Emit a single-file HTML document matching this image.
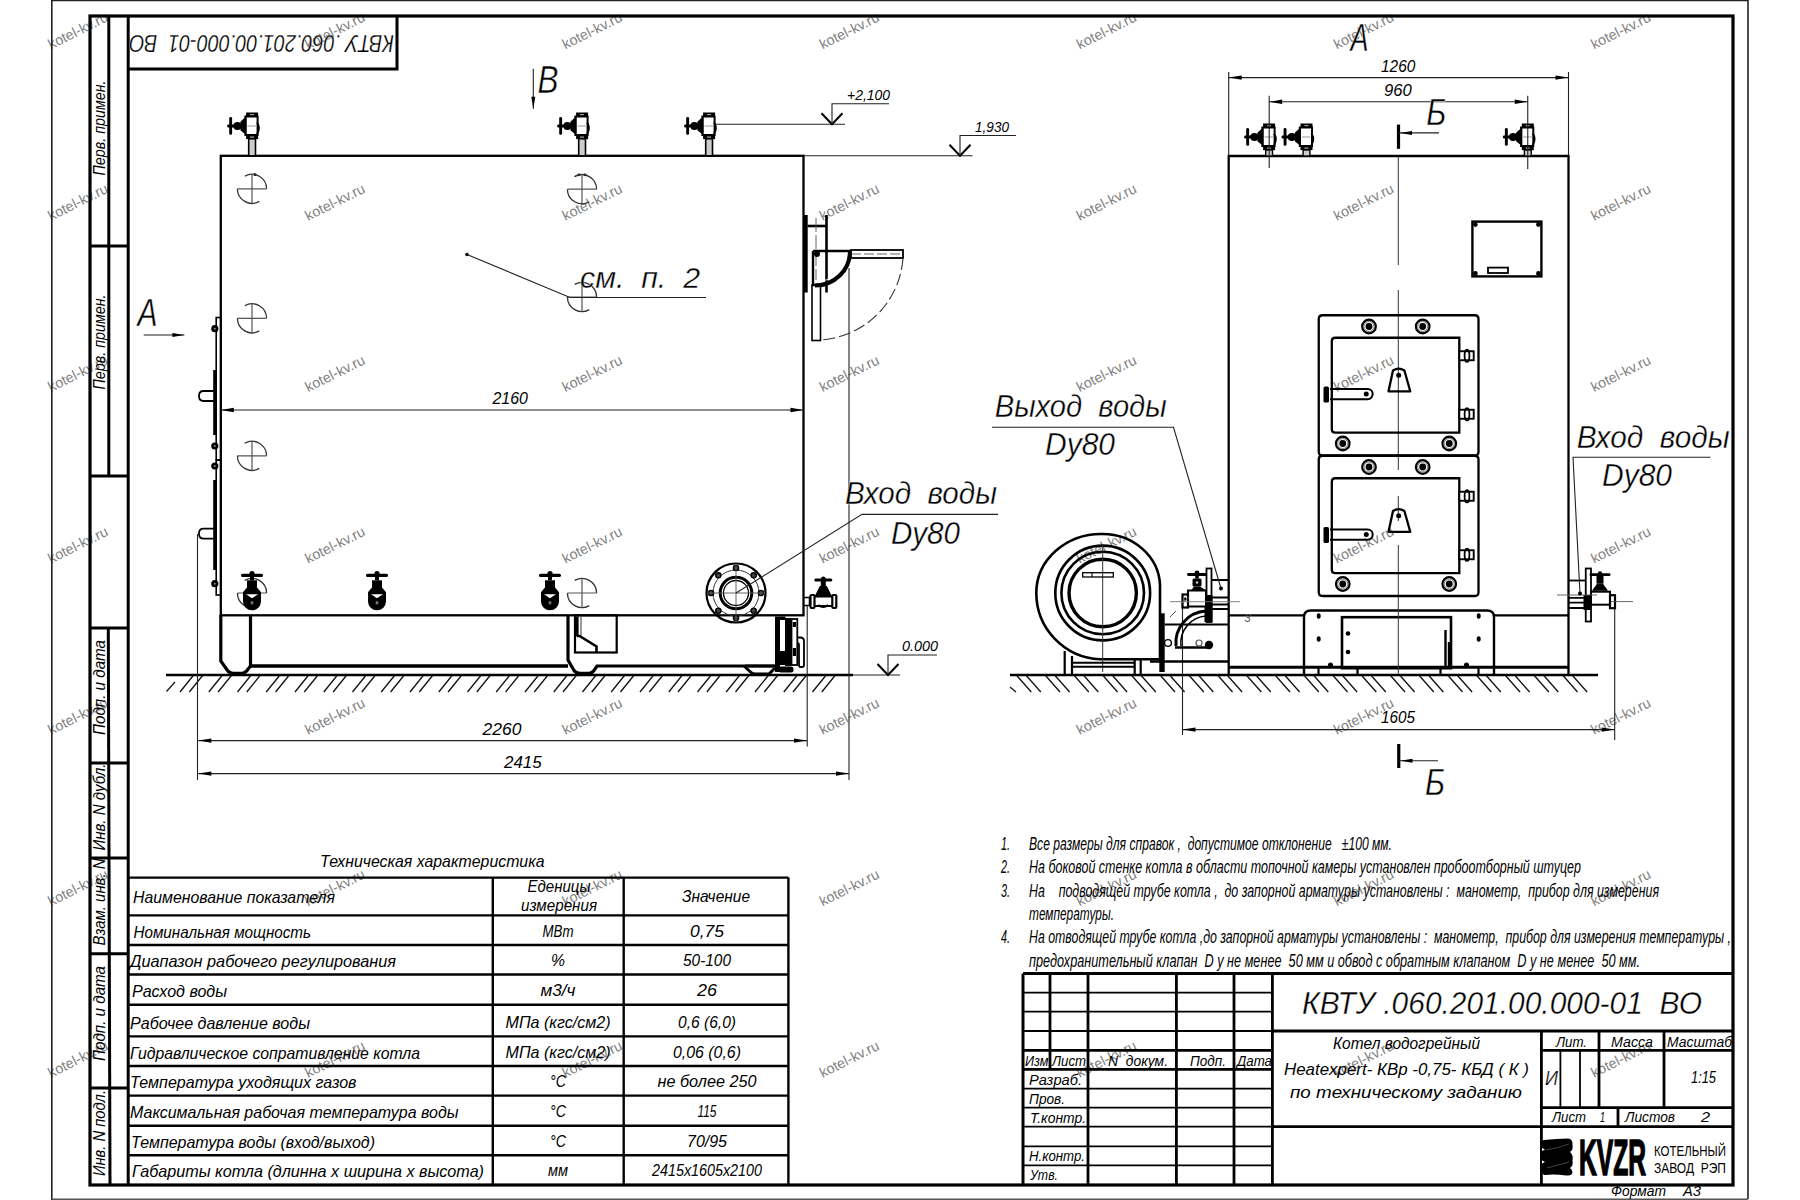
<!DOCTYPE html><html><head><meta charset="utf-8"><style>html,body{margin:0;padding:0;background:#fff;overflow:hidden}svg{display:block}</style></head><body>
<svg width="1800" height="1200" viewBox="0 0 1800 1200" font-family='"Liberation Sans", sans-serif' stroke-linecap="butt">
<rect x="0" y="0" width="1800" height="1200" fill="#fff"/>
<defs>
<g id="brk"><path d="M-7.3,-12.6 A14.6,14.6 0 0 1 14.6,0 M-14.6,0 A14.6,14.6 0 0 0 7.3,12.6" stroke="#333" stroke-width="1.3" fill="none"/><path d="M-14.6,0 H14.6 M0,-14.6 V14.6" stroke="#555" stroke-width="1.2"/></g>
<g id="vside"><rect x="-5.9" y="0" width="12" height="4.2" fill="#000"/><rect x="-2" y="1.6" width="4" height="1.2" fill="#aaa"/><path d="M-6.6,4 V22.6 H5.6 V4 Z" fill="#fff" stroke="#000" stroke-width="2"/><path d="M5,10 Q8.8,15 5,21.5" stroke="#000" stroke-width="1.9" fill="none"/><path d="M-6,5 L-11,9.5 V17.5 L-6,21.5 Z" fill="#000" stroke="#000" stroke-width="1.2" stroke-linejoin="round"/><circle cx="-14.6" cy="13.5" r="4.1" fill="#000"/><rect x="-22.8" y="4.5" width="2.9" height="17.8" rx="1.4" fill="#000"/><rect x="-24.8" y="12" width="9" height="3" rx="1.2" fill="#000"/><line x1="-4.5" y1="13.5" x2="4" y2="13.5" stroke="#999" stroke-width="1"/><rect x="-5.9" y="22.4" width="12" height="4.2" fill="#000"/><rect x="-2" y="24" width="4" height="1.2" fill="#aaa"/></g>
<g id="vfront"><rect x="-11" y="-1.6" width="22" height="3.4" rx="1.6" fill="#000"/><circle cx="0" cy="-1.8" r="2.6" fill="#000"/><rect x="-2" y="1" width="4" height="4" fill="#000"/><rect x="-5" y="5" width="10" height="7" fill="#000"/><path d="M-4,11 L-9,17 V26 A9,9 0 0 0 9,26 V17 L4,11 Z" fill="#000"/><path d="M-6,19 H6 L0,23 Z" fill="#fff"/><rect x="-1.3" y="26" width="2.6" height="3" fill="#777"/></g>
</defs>
<text x="51.0" y="49.5" font-size="14.3" fill="#7f7f7f" transform="rotate(-26.5 51.0 49.5)">kotel-kv.ru</text>
<text x="308.1" y="49.5" font-size="14.3" fill="#7f7f7f" transform="rotate(-26.5 308.1 49.5)">kotel-kv.ru</text>
<text x="565.3" y="49.5" font-size="14.3" fill="#7f7f7f" transform="rotate(-26.5 565.3 49.5)">kotel-kv.ru</text>
<text x="822.4" y="49.5" font-size="14.3" fill="#7f7f7f" transform="rotate(-26.5 822.4 49.5)">kotel-kv.ru</text>
<text x="1079.6" y="49.5" font-size="14.3" fill="#7f7f7f" transform="rotate(-26.5 1079.6 49.5)">kotel-kv.ru</text>
<text x="1336.8" y="49.5" font-size="14.3" fill="#7f7f7f" transform="rotate(-26.5 1336.8 49.5)">kotel-kv.ru</text>
<text x="1593.9" y="49.5" font-size="14.3" fill="#7f7f7f" transform="rotate(-26.5 1593.9 49.5)">kotel-kv.ru</text>
<text x="51.0" y="220.9" font-size="14.3" fill="#7f7f7f" transform="rotate(-26.5 51.0 220.9)">kotel-kv.ru</text>
<text x="308.1" y="220.9" font-size="14.3" fill="#7f7f7f" transform="rotate(-26.5 308.1 220.9)">kotel-kv.ru</text>
<text x="565.3" y="220.9" font-size="14.3" fill="#7f7f7f" transform="rotate(-26.5 565.3 220.9)">kotel-kv.ru</text>
<text x="822.4" y="220.9" font-size="14.3" fill="#7f7f7f" transform="rotate(-26.5 822.4 220.9)">kotel-kv.ru</text>
<text x="1079.6" y="220.9" font-size="14.3" fill="#7f7f7f" transform="rotate(-26.5 1079.6 220.9)">kotel-kv.ru</text>
<text x="1336.8" y="220.9" font-size="14.3" fill="#7f7f7f" transform="rotate(-26.5 1336.8 220.9)">kotel-kv.ru</text>
<text x="1593.9" y="220.9" font-size="14.3" fill="#7f7f7f" transform="rotate(-26.5 1593.9 220.9)">kotel-kv.ru</text>
<text x="51.0" y="392.3" font-size="14.3" fill="#7f7f7f" transform="rotate(-26.5 51.0 392.3)">kotel-kv.ru</text>
<text x="308.1" y="392.3" font-size="14.3" fill="#7f7f7f" transform="rotate(-26.5 308.1 392.3)">kotel-kv.ru</text>
<text x="565.3" y="392.3" font-size="14.3" fill="#7f7f7f" transform="rotate(-26.5 565.3 392.3)">kotel-kv.ru</text>
<text x="822.4" y="392.3" font-size="14.3" fill="#7f7f7f" transform="rotate(-26.5 822.4 392.3)">kotel-kv.ru</text>
<text x="1079.6" y="392.3" font-size="14.3" fill="#7f7f7f" transform="rotate(-26.5 1079.6 392.3)">kotel-kv.ru</text>
<text x="1336.8" y="392.3" font-size="14.3" fill="#7f7f7f" transform="rotate(-26.5 1336.8 392.3)">kotel-kv.ru</text>
<text x="1593.9" y="392.3" font-size="14.3" fill="#7f7f7f" transform="rotate(-26.5 1593.9 392.3)">kotel-kv.ru</text>
<text x="51.0" y="563.7" font-size="14.3" fill="#7f7f7f" transform="rotate(-26.5 51.0 563.7)">kotel-kv.ru</text>
<text x="308.1" y="563.7" font-size="14.3" fill="#7f7f7f" transform="rotate(-26.5 308.1 563.7)">kotel-kv.ru</text>
<text x="565.3" y="563.7" font-size="14.3" fill="#7f7f7f" transform="rotate(-26.5 565.3 563.7)">kotel-kv.ru</text>
<text x="822.4" y="563.7" font-size="14.3" fill="#7f7f7f" transform="rotate(-26.5 822.4 563.7)">kotel-kv.ru</text>
<text x="1079.6" y="563.7" font-size="14.3" fill="#7f7f7f" transform="rotate(-26.5 1079.6 563.7)">kotel-kv.ru</text>
<text x="1336.8" y="563.7" font-size="14.3" fill="#7f7f7f" transform="rotate(-26.5 1336.8 563.7)">kotel-kv.ru</text>
<text x="1593.9" y="563.7" font-size="14.3" fill="#7f7f7f" transform="rotate(-26.5 1593.9 563.7)">kotel-kv.ru</text>
<text x="51.0" y="735.1" font-size="14.3" fill="#7f7f7f" transform="rotate(-26.5 51.0 735.1)">kotel-kv.ru</text>
<text x="308.1" y="735.1" font-size="14.3" fill="#7f7f7f" transform="rotate(-26.5 308.1 735.1)">kotel-kv.ru</text>
<text x="565.3" y="735.1" font-size="14.3" fill="#7f7f7f" transform="rotate(-26.5 565.3 735.1)">kotel-kv.ru</text>
<text x="822.4" y="735.1" font-size="14.3" fill="#7f7f7f" transform="rotate(-26.5 822.4 735.1)">kotel-kv.ru</text>
<text x="1079.6" y="735.1" font-size="14.3" fill="#7f7f7f" transform="rotate(-26.5 1079.6 735.1)">kotel-kv.ru</text>
<text x="1336.8" y="735.1" font-size="14.3" fill="#7f7f7f" transform="rotate(-26.5 1336.8 735.1)">kotel-kv.ru</text>
<text x="1593.9" y="735.1" font-size="14.3" fill="#7f7f7f" transform="rotate(-26.5 1593.9 735.1)">kotel-kv.ru</text>
<text x="51.0" y="906.5" font-size="14.3" fill="#7f7f7f" transform="rotate(-26.5 51.0 906.5)">kotel-kv.ru</text>
<text x="308.1" y="906.5" font-size="14.3" fill="#7f7f7f" transform="rotate(-26.5 308.1 906.5)">kotel-kv.ru</text>
<text x="565.3" y="906.5" font-size="14.3" fill="#7f7f7f" transform="rotate(-26.5 565.3 906.5)">kotel-kv.ru</text>
<text x="822.4" y="906.5" font-size="14.3" fill="#7f7f7f" transform="rotate(-26.5 822.4 906.5)">kotel-kv.ru</text>
<text x="1079.6" y="906.5" font-size="14.3" fill="#7f7f7f" transform="rotate(-26.5 1079.6 906.5)">kotel-kv.ru</text>
<text x="1336.8" y="906.5" font-size="14.3" fill="#7f7f7f" transform="rotate(-26.5 1336.8 906.5)">kotel-kv.ru</text>
<text x="1593.9" y="906.5" font-size="14.3" fill="#7f7f7f" transform="rotate(-26.5 1593.9 906.5)">kotel-kv.ru</text>
<text x="51.0" y="1077.9" font-size="14.3" fill="#7f7f7f" transform="rotate(-26.5 51.0 1077.9)">kotel-kv.ru</text>
<text x="308.1" y="1077.9" font-size="14.3" fill="#7f7f7f" transform="rotate(-26.5 308.1 1077.9)">kotel-kv.ru</text>
<text x="565.3" y="1077.9" font-size="14.3" fill="#7f7f7f" transform="rotate(-26.5 565.3 1077.9)">kotel-kv.ru</text>
<text x="822.4" y="1077.9" font-size="14.3" fill="#7f7f7f" transform="rotate(-26.5 822.4 1077.9)">kotel-kv.ru</text>
<text x="1079.6" y="1077.9" font-size="14.3" fill="#7f7f7f" transform="rotate(-26.5 1079.6 1077.9)">kotel-kv.ru</text>
<text x="1336.8" y="1077.9" font-size="14.3" fill="#7f7f7f" transform="rotate(-26.5 1336.8 1077.9)">kotel-kv.ru</text>
<text x="1593.9" y="1077.9" font-size="14.3" fill="#7f7f7f" transform="rotate(-26.5 1593.9 1077.9)">kotel-kv.ru</text>
<path d="M51.8,1200 V0.5 H1748 V1199" stroke="#222" stroke-width="1.6" fill="none" />
<line x1="51.8" y1="1199.3" x2="1748" y2="1199.3" stroke="#555" stroke-width="1.4" />
<rect x="90" y="16" width="1643" height="1169" stroke="#000" stroke-width="3.2" fill="none" />
<line x1="128.2" y1="16" x2="128.2" y2="1185" stroke="#000" stroke-width="3" />
<line x1="90" y1="476" x2="128.2" y2="476" stroke="#000" stroke-width="3" />
<line x1="108.8" y1="16" x2="108.8" y2="476" stroke="#000" stroke-width="3" />
<line x1="90" y1="246" x2="128.2" y2="246" stroke="#000" stroke-width="3" />
<line x1="90" y1="628" x2="128.2" y2="628" stroke="#000" stroke-width="3" />
<line x1="108.3" y1="628" x2="110.0" y2="1185" stroke="#000" stroke-width="3" />
<line x1="90" y1="763" x2="128.2" y2="763" stroke="#000" stroke-width="3" />
<line x1="90" y1="858" x2="128.2" y2="858" stroke="#000" stroke-width="3" />
<line x1="90" y1="953.8" x2="128.2" y2="953.8" stroke="#000" stroke-width="3" />
<line x1="90" y1="1088" x2="128.2" y2="1088" stroke="#000" stroke-width="3" />
<text x="104.5" y="128" font-size="17" font-style="italic" text-anchor="middle" textLength="95" lengthAdjust="spacingAndGlyphs" transform="rotate(-90 104.5 128)">Перв. примен.</text>
<text x="104.5" y="342" font-size="17" font-style="italic" text-anchor="middle" textLength="95" lengthAdjust="spacingAndGlyphs" transform="rotate(-90 104.5 342)">Перв. примен.</text>
<text x="104.5" y="687.5" font-size="17" font-style="italic" text-anchor="middle" textLength="95" lengthAdjust="spacingAndGlyphs" transform="rotate(-90 104.5 687.5)">Подп. и дата</text>
<text x="104.5" y="807" font-size="17" font-style="italic" text-anchor="middle" textLength="87" lengthAdjust="spacingAndGlyphs" transform="rotate(-90 104.5 807)">Инв. N дубл.</text>
<text x="104.5" y="902" font-size="17" font-style="italic" text-anchor="middle" textLength="87" lengthAdjust="spacingAndGlyphs" transform="rotate(-90 104.5 902)">Взам. инв. N</text>
<text x="104.5" y="1013.5" font-size="17" font-style="italic" text-anchor="middle" textLength="95" lengthAdjust="spacingAndGlyphs" transform="rotate(-90 104.5 1013.5)">Подп. и дата</text>
<text x="104.5" y="1133" font-size="17" font-style="italic" text-anchor="middle" textLength="86" lengthAdjust="spacingAndGlyphs" transform="rotate(-90 104.5 1133)">Инв. N подл.</text>
<path d="M128.2,69 H397 V16" stroke="#000" stroke-width="3" fill="none" />
<text x="262.5" y="38" font-size="23" font-style="italic" text-anchor="middle" textLength="265" lengthAdjust="spacingAndGlyphs" style="white-space:pre" stroke="#fff" stroke-width="0.25" transform="rotate(180 262 36.5)">КВТУ .060.201.00.000-01  ВО</text>
<text x="320" y="867.4" font-size="16.5" font-style="italic" font-weight="normal" text-anchor="start" fill="#000" textLength="224.5" lengthAdjust="spacingAndGlyphs" style="white-space:pre" >Техническая характеристика</text>
<line x1="128.2" y1="877.6" x2="788.4" y2="877.6" stroke="#000" stroke-width="2.4" />
<line x1="128.2" y1="915.4" x2="788.4" y2="915.4" stroke="#000" stroke-width="2.4" />
<line x1="128.2" y1="945" x2="788.4" y2="945" stroke="#000" stroke-width="2.4" />
<line x1="128.2" y1="974.5" x2="788.4" y2="974.5" stroke="#000" stroke-width="2.4" />
<line x1="128.2" y1="1004.8" x2="788.4" y2="1004.8" stroke="#000" stroke-width="2.4" />
<line x1="128.2" y1="1036.4" x2="788.4" y2="1036.4" stroke="#000" stroke-width="2.4" />
<line x1="128.2" y1="1066" x2="788.4" y2="1066" stroke="#000" stroke-width="2.4" />
<line x1="128.2" y1="1095.6" x2="788.4" y2="1095.6" stroke="#000" stroke-width="2.4" />
<line x1="128.2" y1="1125.7" x2="788.4" y2="1125.7" stroke="#000" stroke-width="2.4" />
<line x1="128.2" y1="1155.3" x2="788.4" y2="1155.3" stroke="#000" stroke-width="2.4" />
<line x1="492.8" y1="877.6" x2="492.8" y2="1184.6" stroke="#000" stroke-width="2.4" />
<line x1="623.7" y1="877.6" x2="623.7" y2="1184.6" stroke="#000" stroke-width="2.4" />
<line x1="788.4" y1="877.6" x2="788.4" y2="1184.6" stroke="#000" stroke-width="2.4" />
<text x="133" y="903" font-size="16.5" font-style="italic" font-weight="normal" text-anchor="start" fill="#000" textLength="202" lengthAdjust="spacingAndGlyphs" style="white-space:pre" >Наименование показателя</text>
<text x="133.5" y="937.5" font-size="16.5" font-style="italic" font-weight="normal" text-anchor="start" fill="#000" textLength="177.5" lengthAdjust="spacingAndGlyphs" style="white-space:pre" >Номинальная мощность</text>
<text x="130" y="967.0" font-size="16.5" font-style="italic" font-weight="normal" text-anchor="start" fill="#000" textLength="266" lengthAdjust="spacingAndGlyphs" style="white-space:pre" >Диапазон рабочего регулирования</text>
<text x="132" y="997.3" font-size="16.5" font-style="italic" font-weight="normal" text-anchor="start" fill="#000" textLength="95" lengthAdjust="spacingAndGlyphs" style="white-space:pre" >Расход воды</text>
<text x="130" y="1028.9" font-size="16.5" font-style="italic" font-weight="normal" text-anchor="start" fill="#000" textLength="180" lengthAdjust="spacingAndGlyphs" style="white-space:pre" >Рабочее давление воды</text>
<text x="130" y="1058.5" font-size="16.5" font-style="italic" font-weight="normal" text-anchor="start" fill="#000" textLength="290" lengthAdjust="spacingAndGlyphs" style="white-space:pre" >Гидравлическое сопративление котла</text>
<text x="130" y="1088.1" font-size="16.5" font-style="italic" font-weight="normal" text-anchor="start" fill="#000" textLength="226.5" lengthAdjust="spacingAndGlyphs" style="white-space:pre" >Температура уходящих газов</text>
<text x="130" y="1118.2" font-size="16.5" font-style="italic" font-weight="normal" text-anchor="start" fill="#000" textLength="328.5" lengthAdjust="spacingAndGlyphs" style="white-space:pre" >Максимальная рабочая температура воды</text>
<text x="131" y="1147.8" font-size="16.5" font-style="italic" font-weight="normal" text-anchor="start" fill="#000" textLength="244" lengthAdjust="spacingAndGlyphs" style="white-space:pre" >Температура воды (вход/выход)</text>
<text x="132" y="1177.1" font-size="16.5" font-style="italic" font-weight="normal" text-anchor="start" fill="#000" textLength="352" lengthAdjust="spacingAndGlyphs" style="white-space:pre" >Габариты котла (длинна х ширина х высота)</text>
<text x="558" y="936.5" font-size="16.5" font-style="italic" font-weight="normal" text-anchor="middle" fill="#000" textLength="31" lengthAdjust="spacingAndGlyphs" style="white-space:pre" >МВт</text>
<text x="707" y="936.5" font-size="16.5" font-style="italic" font-weight="normal" text-anchor="middle" fill="#000" textLength="34" lengthAdjust="spacingAndGlyphs" style="white-space:pre" >0,75</text>
<text x="558" y="966.0" font-size="16.5" font-style="italic" font-weight="normal" text-anchor="middle" fill="#000" textLength="14" lengthAdjust="spacingAndGlyphs" style="white-space:pre" >%</text>
<text x="707" y="966.0" font-size="16.5" font-style="italic" font-weight="normal" text-anchor="middle" fill="#000" textLength="48" lengthAdjust="spacingAndGlyphs" style="white-space:pre" >50-100</text>
<text x="558" y="996.3" font-size="16.5" font-style="italic" font-weight="normal" text-anchor="middle" fill="#000" textLength="35" lengthAdjust="spacingAndGlyphs" style="white-space:pre" >м3/ч</text>
<text x="707" y="996.3" font-size="16.5" font-style="italic" font-weight="normal" text-anchor="middle" fill="#000" textLength="20" lengthAdjust="spacingAndGlyphs" style="white-space:pre" >26</text>
<text x="558" y="1027.9" font-size="16.5" font-style="italic" font-weight="normal" text-anchor="middle" fill="#000" textLength="105" lengthAdjust="spacingAndGlyphs" style="white-space:pre" >МПа (кгс/см2)</text>
<text x="707" y="1027.9" font-size="16.5" font-style="italic" font-weight="normal" text-anchor="middle" fill="#000" textLength="58" lengthAdjust="spacingAndGlyphs" style="white-space:pre" >0,6 (6,0)</text>
<text x="558" y="1057.5" font-size="16.5" font-style="italic" font-weight="normal" text-anchor="middle" fill="#000" textLength="105" lengthAdjust="spacingAndGlyphs" style="white-space:pre" >МПа (кгс/см2)</text>
<text x="707" y="1057.5" font-size="16.5" font-style="italic" font-weight="normal" text-anchor="middle" fill="#000" textLength="68" lengthAdjust="spacingAndGlyphs" style="white-space:pre" >0,06 (0,6)</text>
<text x="558" y="1087.1" font-size="16.5" font-style="italic" font-weight="normal" text-anchor="middle" fill="#000" textLength="16" lengthAdjust="spacingAndGlyphs" style="white-space:pre" >°С</text>
<text x="707" y="1087.1" font-size="16.5" font-style="italic" font-weight="normal" text-anchor="middle" fill="#000" textLength="99" lengthAdjust="spacingAndGlyphs" style="white-space:pre" >не более 250</text>
<text x="558" y="1117.2" font-size="16.5" font-style="italic" font-weight="normal" text-anchor="middle" fill="#000" textLength="16" lengthAdjust="spacingAndGlyphs" style="white-space:pre" >°С</text>
<text x="707" y="1117.2" font-size="16.5" font-style="italic" font-weight="normal" text-anchor="middle" fill="#000" textLength="19" lengthAdjust="spacingAndGlyphs" style="white-space:pre" >115</text>
<text x="558" y="1146.8" font-size="16.5" font-style="italic" font-weight="normal" text-anchor="middle" fill="#000" textLength="16" lengthAdjust="spacingAndGlyphs" style="white-space:pre" >°С</text>
<text x="707" y="1146.8" font-size="16.5" font-style="italic" font-weight="normal" text-anchor="middle" fill="#000" textLength="40" lengthAdjust="spacingAndGlyphs" style="white-space:pre" >70/95</text>
<text x="558" y="1176.1" font-size="16.5" font-style="italic" font-weight="normal" text-anchor="middle" fill="#000" textLength="20" lengthAdjust="spacingAndGlyphs" style="white-space:pre" >мм</text>
<text x="707" y="1176.1" font-size="16.5" font-style="italic" font-weight="normal" text-anchor="middle" fill="#000" textLength="110" lengthAdjust="spacingAndGlyphs" style="white-space:pre" >2415x1605x2100</text>
<text x="559" y="892" font-size="16.5" font-style="italic" font-weight="normal" text-anchor="middle" fill="#000" textLength="63" lengthAdjust="spacingAndGlyphs" style="white-space:pre" >Еденицы</text>
<text x="559" y="910.7" font-size="16.5" font-style="italic" font-weight="normal" text-anchor="middle" fill="#000" textLength="76" lengthAdjust="spacingAndGlyphs" style="white-space:pre" >измерения</text>
<text x="716" y="902" font-size="16.5" font-style="italic" font-weight="normal" text-anchor="middle" fill="#000" textLength="68" lengthAdjust="spacingAndGlyphs" style="white-space:pre" >Значение</text>
<text x="1001" y="850" font-size="18" font-style="italic" font-weight="normal" text-anchor="start" fill="#000" textLength="9" lengthAdjust="spacingAndGlyphs" style="white-space:pre" >1.</text>
<text x="1029" y="850" font-size="18" font-style="italic" font-weight="normal" text-anchor="start" fill="#000" textLength="363" lengthAdjust="spacingAndGlyphs" style="white-space:pre" >Все размеры для справок ,  допустимое отклонение   ±100 мм.</text>
<text x="1001" y="873.3" font-size="18" font-style="italic" font-weight="normal" text-anchor="start" fill="#000" textLength="9" lengthAdjust="spacingAndGlyphs" style="white-space:pre" >2.</text>
<text x="1029" y="873.3" font-size="18" font-style="italic" font-weight="normal" text-anchor="start" fill="#000" textLength="552" lengthAdjust="spacingAndGlyphs" style="white-space:pre" >На боковой стенке котла в области топочной камеры установлен пробоотборный штуцер</text>
<text x="1001" y="896.7" font-size="18" font-style="italic" font-weight="normal" text-anchor="start" fill="#000" textLength="9" lengthAdjust="spacingAndGlyphs" style="white-space:pre" >3.</text>
<text x="1029" y="896.7" font-size="18" font-style="italic" font-weight="normal" text-anchor="start" fill="#000" textLength="630" lengthAdjust="spacingAndGlyphs" style="white-space:pre" >На    подводящей трубе котла ,  до запорной арматуры установлены :  манометр,  прибор для измерения</text>
<text x="1029" y="920" font-size="18" font-style="italic" font-weight="normal" text-anchor="start" fill="#000" textLength="85" lengthAdjust="spacingAndGlyphs" style="white-space:pre" >температуры.</text>
<text x="1001" y="943.3" font-size="18" font-style="italic" font-weight="normal" text-anchor="start" fill="#000" textLength="9" lengthAdjust="spacingAndGlyphs" style="white-space:pre" >4.</text>
<text x="1029" y="943.3" font-size="18" font-style="italic" font-weight="normal" text-anchor="start" fill="#000" textLength="702" lengthAdjust="spacingAndGlyphs" style="white-space:pre" >На отводящей трубе котла ,до запорной арматуры установлены :  манометр,  прибор для измерения температуры ,</text>
<text x="1029" y="966.7" font-size="18" font-style="italic" font-weight="normal" text-anchor="start" fill="#000" textLength="611" lengthAdjust="spacingAndGlyphs" style="white-space:pre" >предохранительный клапан  D у не менее  50 мм и обвод с обратным клапаном  D у не менее  50 мм.</text>
<line x1="1023" y1="973.6" x2="1733" y2="973.6" stroke="#000" stroke-width="3" />
<line x1="1023" y1="973.6" x2="1023" y2="1185" stroke="#000" stroke-width="3" />
<line x1="1088" y1="973.6" x2="1088" y2="1185" stroke="#000" stroke-width="2.8" />
<line x1="1176.4" y1="973.6" x2="1176.4" y2="1185" stroke="#000" stroke-width="2.8" />
<line x1="1234" y1="973.6" x2="1234" y2="1185" stroke="#000" stroke-width="2.8" />
<line x1="1272.4" y1="973.6" x2="1272.4" y2="1185" stroke="#000" stroke-width="2.8" />
<line x1="1050" y1="973.6" x2="1050" y2="1069.4" stroke="#000" stroke-width="2.8" />
<line x1="1023" y1="992.6" x2="1272.4" y2="992.6" stroke="#000" stroke-width="1.8" />
<line x1="1023" y1="1011.6" x2="1272.4" y2="1011.6" stroke="#000" stroke-width="1.8" />
<line x1="1023" y1="1031" x2="1272.4" y2="1031" stroke="#000" stroke-width="1.8" />
<line x1="1023" y1="1088.6" x2="1272.4" y2="1088.6" stroke="#000" stroke-width="1.8" />
<line x1="1023" y1="1107.6" x2="1272.4" y2="1107.6" stroke="#000" stroke-width="1.8" />
<line x1="1023" y1="1126.6" x2="1272.4" y2="1126.6" stroke="#000" stroke-width="1.8" />
<line x1="1023" y1="1146.4" x2="1272.4" y2="1146.4" stroke="#000" stroke-width="1.8" />
<line x1="1023" y1="1165.4" x2="1272.4" y2="1165.4" stroke="#000" stroke-width="1.8" />
<line x1="1023" y1="1050.4" x2="1272.4" y2="1050.4" stroke="#000" stroke-width="2.8" />
<line x1="1023" y1="1069.4" x2="1272.4" y2="1069.4" stroke="#000" stroke-width="2.8" />
<line x1="1272.4" y1="1031" x2="1733" y2="1031" stroke="#000" stroke-width="2.8" />
<line x1="1272.4" y1="1126.6" x2="1733" y2="1126.6" stroke="#000" stroke-width="2.8" />
<line x1="1541.4" y1="1031" x2="1541.4" y2="1185" stroke="#000" stroke-width="2.8" />
<line x1="1541.4" y1="1050.4" x2="1733" y2="1050.4" stroke="#000" stroke-width="2.8" />
<line x1="1541.4" y1="1107.6" x2="1733" y2="1107.6" stroke="#000" stroke-width="2.8" />
<line x1="1599" y1="1031" x2="1599" y2="1107.6" stroke="#000" stroke-width="2.8" />
<line x1="1664" y1="1031" x2="1664" y2="1107.6" stroke="#000" stroke-width="2.8" />
<line x1="1560.4" y1="1050.4" x2="1560.4" y2="1107.6" stroke="#000" stroke-width="1.8" />
<line x1="1580" y1="1050.4" x2="1580" y2="1107.6" stroke="#000" stroke-width="1.8" />
<line x1="1618" y1="1107.6" x2="1618" y2="1126.6" stroke="#000" stroke-width="2.8" />
<text x="1025" y="1066" font-size="15" font-style="italic" font-weight="normal" text-anchor="start" fill="#000" textLength="27" lengthAdjust="spacingAndGlyphs" style="white-space:pre" >Изм.</text>
<text x="1052" y="1066" font-size="15" font-style="italic" font-weight="normal" text-anchor="start" fill="#000" textLength="34" lengthAdjust="spacingAndGlyphs" style="white-space:pre" >Лист</text>
<text x="1108" y="1066" font-size="15" font-style="italic" font-weight="normal" text-anchor="start" fill="#000" textLength="60" lengthAdjust="spacingAndGlyphs" style="white-space:pre" >N  докум.</text>
<text x="1190" y="1066" font-size="15" font-style="italic" font-weight="normal" text-anchor="start" fill="#000" textLength="36" lengthAdjust="spacingAndGlyphs" style="white-space:pre" >Подп.</text>
<text x="1237" y="1066" font-size="15" font-style="italic" font-weight="normal" text-anchor="start" fill="#000" textLength="35" lengthAdjust="spacingAndGlyphs" style="white-space:pre" >Дата</text>
<text x="1029" y="1085" font-size="15" font-style="italic" font-weight="normal" text-anchor="start" fill="#000" textLength="53" lengthAdjust="spacingAndGlyphs" style="white-space:pre" >Разраб.</text>
<text x="1029" y="1104" font-size="15" font-style="italic" font-weight="normal" text-anchor="start" fill="#000" textLength="36" lengthAdjust="spacingAndGlyphs" style="white-space:pre" >Пров.</text>
<text x="1030" y="1123" font-size="15" font-style="italic" font-weight="normal" text-anchor="start" fill="#000" textLength="56" lengthAdjust="spacingAndGlyphs" style="white-space:pre" >Т.контр.</text>
<text x="1029" y="1161" font-size="15" font-style="italic" font-weight="normal" text-anchor="start" fill="#000" textLength="56" lengthAdjust="spacingAndGlyphs" style="white-space:pre" >Н.контр.</text>
<text x="1030" y="1180" font-size="15" font-style="italic" font-weight="normal" text-anchor="start" fill="#000" textLength="28" lengthAdjust="spacingAndGlyphs" style="white-space:pre" >Утв.</text>
<text x="1302" y="1014" font-size="31" font-style="italic" font-weight="normal" text-anchor="start" fill="#000" textLength="400" lengthAdjust="spacingAndGlyphs" stroke="#fff" stroke-width="0.37" style="white-space:pre" >КВТУ .060.201.00.000-01  ВО</text>
<text x="1406.5" y="1049" font-size="17" font-style="italic" font-weight="normal" text-anchor="middle" fill="#000" textLength="147" lengthAdjust="spacingAndGlyphs" style="white-space:pre" >Котел водогрейный</text>
<text x="1284" y="1075" font-size="17" font-style="italic" font-weight="normal" text-anchor="start" fill="#000" textLength="245" lengthAdjust="spacingAndGlyphs" style="white-space:pre" >Heatexpert- КВр -0,75- КБД ( К )</text>
<text x="1290" y="1098" font-size="17" font-style="italic" font-weight="normal" text-anchor="start" fill="#000" textLength="232" lengthAdjust="spacingAndGlyphs" style="white-space:pre" >по техническому заданию</text>
<text x="1556" y="1046.5" font-size="15" font-style="italic" font-weight="normal" text-anchor="start" fill="#000" textLength="31" lengthAdjust="spacingAndGlyphs" style="white-space:pre" >Лит.</text>
<text x="1611" y="1047" font-size="15" font-style="italic" font-weight="normal" text-anchor="start" fill="#000" textLength="42" lengthAdjust="spacingAndGlyphs" style="white-space:pre" >Масса</text>
<text x="1667" y="1047" font-size="15" font-style="italic" font-weight="normal" text-anchor="start" fill="#000" textLength="65" lengthAdjust="spacingAndGlyphs" style="white-space:pre" >Масштаб</text>
<text x="1545" y="1085" font-size="20" font-style="italic" font-weight="normal" text-anchor="start" fill="#000" textLength="13" lengthAdjust="spacingAndGlyphs" stroke="#fff" stroke-width="0.24" style="white-space:pre" >И</text>
<text x="1691" y="1083" font-size="17" font-style="italic" font-weight="normal" text-anchor="start" fill="#000" textLength="25" lengthAdjust="spacingAndGlyphs" style="white-space:pre" >1:15</text>
<text x="1552" y="1122" font-size="15" font-style="italic" font-weight="normal" text-anchor="start" fill="#000" textLength="34" lengthAdjust="spacingAndGlyphs" style="white-space:pre" >Лист</text>
<text x="1600" y="1122" font-size="15" font-style="italic" font-weight="normal" text-anchor="start" fill="#000" textLength="5" lengthAdjust="spacingAndGlyphs" style="white-space:pre" >1</text>
<text x="1625" y="1122" font-size="15" font-style="italic" font-weight="normal" text-anchor="start" fill="#000" textLength="50" lengthAdjust="spacingAndGlyphs" style="white-space:pre" >Листов</text>
<text x="1701" y="1122" font-size="15" font-style="italic" font-weight="normal" text-anchor="start" fill="#000" textLength="9" lengthAdjust="spacingAndGlyphs" style="white-space:pre" >2</text>
<text x="1611" y="1196" font-size="15" font-style="italic" font-weight="normal" text-anchor="start" fill="#000" textLength="55" lengthAdjust="spacingAndGlyphs" style="white-space:pre" >Формат</text>
<text x="1683" y="1196" font-size="15" font-style="italic" font-weight="normal" text-anchor="start" fill="#000" textLength="18" lengthAdjust="spacingAndGlyphs" style="white-space:pre" >А3</text>
<path d="M1544,1140 Q1556,1138.5 1568,1138.5 Q1573,1139 1572.5,1145 Q1573.5,1150 1570,1152 Q1573.5,1155 1572.5,1161 Q1573.5,1166 1570,1168 Q1573.5,1171 1572,1174 Q1570,1176 1566,1175.5 Q1555,1174 1545,1175 Q1542,1175 1542,1170 V1144 Q1542,1140 1544,1140 Z" fill="#000"/>
<path d="M1546,1150 Q1558,1148 1569,1144 M1547,1168 Q1558,1165 1569,1162" stroke="#555" stroke-width="0.8" fill="none"/>
<path d="M1542,1148 L1545,1149.5 L1542,1151 Z M1542,1160.5 L1545,1162 L1542,1163.5 Z" fill="#fff"/>
<text x="1579" y="1174.5" font-size="50" font-weight="bold" textLength="67" lengthAdjust="spacingAndGlyphs" stroke="#000" stroke-width="1.6" stroke-linejoin="miter">KVZR</text>
<text x="1654" y="1155.5" font-size="14.5" font-style="normal" font-weight="normal" text-anchor="start" fill="#000" textLength="72" lengthAdjust="spacingAndGlyphs" style="white-space:pre" >КОТЕЛЬНЫЙ</text>
<text x="1654" y="1172.5" font-size="14.5" font-style="normal" font-weight="normal" text-anchor="start" fill="#000" textLength="72" lengthAdjust="spacingAndGlyphs" style="white-space:pre" >ЗАВОД  РЭП</text>
<line x1="166" y1="675" x2="853" y2="675" stroke="#000" stroke-width="2.6" />
<line x1="853" y1="675" x2="900" y2="675" stroke="#222" stroke-width="1.1" />
<path d="M180.0,692.0 L193.3,675.5 M189.3,692.0 L202.6,675.5 M208.8,692.0 L222.1,675.5 M218.1,692.0 L231.4,675.5 M237.5,692.0 L250.8,675.5 M246.8,692.0 L260.1,675.5 M266.2,692.0 L279.6,675.5 M275.6,692.0 L288.9,675.5 M295.0,692.0 L308.3,675.5 M304.3,692.0 L317.6,675.5 M323.8,692.0 L337.1,675.5 M333.1,692.0 L346.4,675.5 M352.5,692.0 L365.8,675.5 M361.8,692.0 L375.1,675.5 M381.2,692.0 L394.6,675.5 M390.6,692.0 L403.9,675.5 M410.0,692.0 L423.3,675.5 M419.3,692.0 L432.6,675.5 M438.8,692.0 L452.1,675.5 M448.1,692.0 L461.4,675.5 M467.5,692.0 L480.8,675.5 M476.8,692.0 L490.1,675.5 M496.2,692.0 L509.6,675.5 M505.6,692.0 L518.9,675.5 M525.0,692.0 L538.3,675.5 M534.3,692.0 L547.6,675.5 M553.8,692.0 L567.0,675.5 M563.0,692.0 L576.3,675.5 M582.5,692.0 L595.8,675.5 M591.8,692.0 L605.1,675.5 M611.2,692.0 L624.5,675.5 M620.5,692.0 L633.8,675.5 M640.0,692.0 L653.3,675.5 M649.3,692.0 L662.6,675.5 M668.8,692.0 L682.0,675.5 M678.0,692.0 L691.3,675.5 M697.5,692.0 L710.8,675.5 M706.8,692.0 L720.1,675.5 M726.2,692.0 L739.5,675.5 M735.5,692.0 L748.8,675.5 M755.0,692.0 L768.3,675.5 M764.3,692.0 L777.6,675.5 M783.8,692.0 L797.0,675.5 M793.0,692.0 L806.3,675.5 M812.5,692.0 L825.8,675.5 M821.8,692.0 L835.1,675.5" stroke="#111" stroke-width="1.3" fill="none" />
<path d="M877.5,664 L888,675 L898.5,664" stroke="#000" stroke-width="2" fill="none" />
<path d="M888,675 V655 H937" stroke="#222" stroke-width="1.1" fill="none" />
<text x="902" y="651.3" font-size="15" font-style="italic" font-weight="normal" text-anchor="start" fill="#000" textLength="36" lengthAdjust="spacingAndGlyphs" style="white-space:pre" >0.000</text>
<rect x="220.8" y="155.8" width="582.7" height="459.5" stroke="#000" stroke-width="2.3" fill="none" />
<path d="M220.8,615 V661 L227.5,670.5 Q229.5,673.3 233,673.3 H242 Q245,673.3 247,670.5 L250.5,666 V615" stroke="#000" stroke-width="3.2" fill="none" />
<line x1="250.5" y1="666" x2="568" y2="666" stroke="#000" stroke-width="3.4" />
<path d="M568,615.3 V660 L574,670.5 Q576,673.3 580,673.3 H589 Q592,673.3 594,670.5 L597,666 H745" stroke="#000" stroke-width="3.2" fill="none" />
<path d="M744,666 L750.5,672 Q752.5,674 755.5,674 H769 L775,668" stroke="#000" stroke-width="3" fill="none" />
<line x1="745" y1="666" x2="775" y2="666" stroke="#000" stroke-width="3.4" />
<rect x="575" y="615.3" width="41.7" height="37.2" stroke="#000" stroke-width="2.2" fill="none" />
<rect x="575" y="616.5" width="3.6" height="20" stroke="#000" stroke-width="0" fill="#000" />
<path d="M581,617 V636" stroke="#666" stroke-width="1.3" fill="none" />
<path d="M577,636 H579.5 L596.5,646.5 V653" stroke="#000" stroke-width="2.6" fill="none" />
<rect x="775" y="616.5" width="5" height="55.5" stroke="#000" stroke-width="0" fill="#000" />
<rect x="780" y="616.5" width="5.5" height="3.5" stroke="#000" stroke-width="0" fill="#000" />
<rect x="780" y="651" width="5.5" height="14" stroke="#000" stroke-width="0" fill="#000" />
<rect x="785" y="618" width="6" height="48" stroke="#000" stroke-width="0" fill="#000" />
<rect x="791.5" y="619" width="5.8" height="46" stroke="#000" stroke-width="1.8" fill="#fff" />
<rect x="792.8" y="622" width="3.2" height="5" stroke="#000" stroke-width="0" fill="#000" />
<rect x="792.8" y="648" width="3.2" height="8" stroke="#000" stroke-width="0" fill="#000" />
<path d="M797,637.5 H801 Q804,638 804,641 V665 Q804,667 802,667 H800.5 Q799,667 799,665 V645 Q799,643 797,643" stroke="#000" stroke-width="1.8" fill="none" />
<rect x="778.5" y="666.5" width="15" height="6" rx="2.5" fill="#000"/>
<line x1="197.5" y1="534" x2="197.5" y2="780" stroke="#222" stroke-width="1.1" />
<line x1="807.2" y1="606" x2="807.2" y2="746.4" stroke="#222" stroke-width="1.1" />
<line x1="849" y1="268" x2="849" y2="780" stroke="#222" stroke-width="1.1" />
<line x1="198.3" y1="740.6" x2="807" y2="740.6" stroke="#222" stroke-width="1.1" />
<path d="M198.3,740.6 L211.3,738.4 L211.3,742.8000000000001 Z" fill="#000"/>
<path d="M807,740.6 L794,738.4 L794,742.8000000000001 Z" fill="#000"/>
<text x="482.6" y="734.7" font-size="17" font-style="italic" font-weight="normal" text-anchor="start" fill="#000" textLength="38.9" lengthAdjust="spacingAndGlyphs" style="white-space:pre" >2260</text>
<line x1="198.3" y1="773.6" x2="849" y2="773.6" stroke="#222" stroke-width="1.1" />
<path d="M198.3,773.6 L211.3,771.4 L211.3,775.8000000000001 Z" fill="#000"/>
<path d="M849,773.6 L836,771.4 L836,775.8000000000001 Z" fill="#000"/>
<text x="504" y="767.8" font-size="17" font-style="italic" font-weight="normal" text-anchor="start" fill="#000" textLength="37.7" lengthAdjust="spacingAndGlyphs" style="white-space:pre" >2415</text>
<line x1="220.8" y1="410" x2="803.5" y2="410" stroke="#222" stroke-width="1.1" />
<path d="M220.8,410 L233.8,407.8 L233.8,412.2 Z" fill="#000"/>
<path d="M803.5,410 L790.5,407.8 L790.5,412.2 Z" fill="#000"/>
<text x="492.5" y="403.7" font-size="17" font-style="italic" font-weight="normal" text-anchor="start" fill="#000" textLength="35.5" lengthAdjust="spacingAndGlyphs" style="white-space:pre" >2160</text>
<line x1="715" y1="124.3" x2="845" y2="124.3" stroke="#222" stroke-width="1.1" />
<path d="M821.5,113.3 L832,124.3 L842.5,113.3" stroke="#000" stroke-width="2" fill="none" />
<path d="M832,124.3 V103.7 H889" stroke="#222" stroke-width="1.1" fill="none" />
<text x="847" y="100.0" font-size="15" font-style="italic" font-weight="normal" text-anchor="start" fill="#000" textLength="43" lengthAdjust="spacingAndGlyphs" style="white-space:pre" >+2,100</text>
<line x1="803.5" y1="155.8" x2="972.5" y2="155.8" stroke="#222" stroke-width="1.1" />
<path d="M949.5,144.8 L960,155.8 L970.5,144.8" stroke="#000" stroke-width="2" fill="none" />
<path d="M960,155.8 V135.5 H1016" stroke="#222" stroke-width="1.1" fill="none" />
<text x="975" y="131.8" font-size="15" font-style="italic" font-weight="normal" text-anchor="start" fill="#000" textLength="34" lengthAdjust="spacingAndGlyphs" style="white-space:pre" >1,930</text>
<line x1="533.3" y1="68.7" x2="533.3" y2="108.7" stroke="#222" stroke-width="1.1" />
<path d="M533.3,108.7 L531.3,96.7 L535.3,96.7 Z" fill="#000"/>
<text x="537.5" y="93" font-size="38" font-style="italic" font-weight="normal" text-anchor="start" fill="#000" textLength="21" lengthAdjust="spacingAndGlyphs" stroke="#fff" stroke-width="0.46" style="white-space:pre" >B</text>
<text x="137.5" y="326" font-size="38" font-style="italic" font-weight="normal" text-anchor="start" fill="#000" textLength="20" lengthAdjust="spacingAndGlyphs" stroke="#fff" stroke-width="0.46" style="white-space:pre" >A</text>
<line x1="143.7" y1="335" x2="184.4" y2="335" stroke="#222" stroke-width="1.2" />
<path d="M184.4,335 L172.4,333 L172.4,337 Z" fill="#000"/>
<circle cx="255" cy="174.7" r="1.4" stroke="#000" stroke-width="0" fill="#000" />
<circle cx="579" cy="174.8" r="1.4" stroke="#000" stroke-width="0" fill="#000" />
<circle cx="585" cy="174.8" r="1.4" stroke="#000" stroke-width="0" fill="#000" />
<path d="M574.5,176.5 Q576.5,175 579,174.8" stroke="#444" stroke-width="1" fill="none" />
<use href="#brk" x="252" y="188.8"/>
<use href="#brk" x="582" y="189.2"/>
<use href="#brk" x="252" y="318.3"/>
<use href="#brk" x="252" y="455.8"/>
<use href="#brk" x="582" y="297"/>
<use href="#brk" x="252" y="593"/>
<use href="#brk" x="582" y="593"/>
<circle cx="467" cy="254.5" r="1.8" stroke="#000" stroke-width="0" fill="#000" />
<path d="M467,254.5 L570,297.5 H706" stroke="#222" stroke-width="1.1" fill="none" />
<text x="580" y="288" font-size="30" font-style="italic" font-weight="normal" text-anchor="start" fill="#000" textLength="120" lengthAdjust="spacingAndGlyphs" stroke="#fff" stroke-width="0.36" style="white-space:pre" >см.  п.  2</text>
<use href="#vside" x="252" y="112.5"/>
<rect x="248.7" y="138.8" width="6.8" height="17" stroke="#000" stroke-width="1.6" fill="#ccc" />
<use href="#vside" x="582" y="112.5"/>
<rect x="578.7" y="138.8" width="6.8" height="17" stroke="#000" stroke-width="1.6" fill="#ccc" />
<use href="#vside" x="709" y="112.5"/>
<rect x="705.7" y="138.8" width="6.8" height="17" stroke="#000" stroke-width="1.6" fill="#ccc" />
<use href="#vfront" x="252" y="575.3"/>
<use href="#vfront" x="377" y="575.3"/>
<use href="#vfront" x="550" y="575.3"/>
<rect x="216.2" y="317.5" width="4.6" height="142.5" stroke="#000" stroke-width="1.6" fill="none" />
<rect x="213.2" y="370" width="3" height="65" stroke="#000" stroke-width="0" fill="#000" />
<circle cx="214.8" cy="328.7" r="3.6" stroke="#000" stroke-width="0" fill="#000" />
<circle cx="214.8" cy="446" r="3.6" stroke="#000" stroke-width="0" fill="#000" />
<circle cx="214.8" cy="328.7" r="1.0" stroke="#000" stroke-width="0" fill="#888" />
<circle cx="214.8" cy="446" r="1.0" stroke="#000" stroke-width="0" fill="#888" />
<path d="M216,391 H203.5 Q199,391 199,396 Q199,401 203.5,401 H216" stroke="#000" stroke-width="1.8" fill="none" />
<rect x="216.2" y="460" width="4.6" height="135" stroke="#000" stroke-width="1.6" fill="none" />
<rect x="213.2" y="480" width="3" height="90" stroke="#000" stroke-width="0" fill="#000" />
<circle cx="214.8" cy="466" r="3.6" stroke="#000" stroke-width="0" fill="#000" />
<circle cx="214.8" cy="583.7" r="3.6" stroke="#000" stroke-width="0" fill="#000" />
<circle cx="214.8" cy="466" r="1.0" stroke="#000" stroke-width="0" fill="#888" />
<circle cx="214.8" cy="583.7" r="1.0" stroke="#000" stroke-width="0" fill="#888" />
<path d="M216,528.7 H203.5 Q199,528.7 199,533.7 Q199,538.7 203.5,538.7 H216" stroke="#000" stroke-width="1.8" fill="none" />
<circle cx="736" cy="593" r="29.5" stroke="#000" stroke-width="2.2" fill="none" />
<circle cx="736" cy="593" r="23" stroke="#333" stroke-width="1" fill="none" />
<circle cx="736" cy="593" r="15.8" stroke="#000" stroke-width="3" fill="none" />
<circle cx="736" cy="593" r="12.5" stroke="#000" stroke-width="1.3" fill="none" />
<circle cx="736.0" cy="568.0" r="2.6" stroke="#000" stroke-width="1.4" fill="#444" />
<circle cx="718.32" cy="575.32" r="2.6" stroke="#000" stroke-width="1.4" fill="#444" />
<circle cx="711.0" cy="593.0" r="2.6" stroke="#000" stroke-width="1.4" fill="#444" />
<circle cx="718.32" cy="610.68" r="2.6" stroke="#000" stroke-width="1.4" fill="#444" />
<circle cx="736.0" cy="618.0" r="2.6" stroke="#000" stroke-width="1.4" fill="#444" />
<circle cx="753.68" cy="610.68" r="2.6" stroke="#000" stroke-width="1.4" fill="#444" />
<circle cx="761.0" cy="593.0" r="2.6" stroke="#000" stroke-width="1.4" fill="#444" />
<circle cx="753.68" cy="575.32" r="2.6" stroke="#000" stroke-width="1.4" fill="#444" />
<path d="M707,593 H765 M736,564 V622" stroke="#555" stroke-width="0.9" fill="none" />
<path d="M736,593 L862,514.4 H998" stroke="#222" stroke-width="1.1" fill="none" />
<text x="845" y="504" font-size="31" font-style="italic" font-weight="normal" text-anchor="start" fill="#000" textLength="152" lengthAdjust="spacingAndGlyphs" stroke="#fff" stroke-width="0.37" style="white-space:pre" >Вход  воды</text>
<text x="891" y="544" font-size="31" font-style="italic" font-weight="normal" text-anchor="start" fill="#000" textLength="69" lengthAdjust="spacingAndGlyphs" stroke="#fff" stroke-width="0.37" style="white-space:pre" >Dy80</text>
<path d="M803.5,597.5 H809.5 V605.5 H803.5" stroke="#000" stroke-width="1.5" fill="none" />
<g transform="translate(823.3,580)"><rect x="-9" y="-1.6" width="18" height="3.2" rx="1.5" fill="#000"/><circle cx="0" cy="-1.4" r="2.2" fill="#000"/><rect x="-2.5" y="1" width="5" height="6" fill="#000"/><path d="M-9,17 L-3.5,6 H3.5 L9,17 Z" fill="#000"/><path d="M-10,16.5 H10 V26 H-10 Z" fill="#fff" stroke="#000" stroke-width="2"/><path d="M-5,25 Q0,29 5,25" stroke="#000" stroke-width="1.8" fill="none"/><rect x="-12.8" y="15" width="4" height="13" rx="1" fill="#fff" stroke="#000" stroke-width="2.2"/><rect x="9" y="15" width="4" height="13" rx="1" fill="#fff" stroke="#000" stroke-width="2.2"/></g>
<rect x="803.5" y="215" width="4.2" height="77.5" stroke="#000" stroke-width="0" fill="#000" />
<line x1="826.5" y1="215" x2="826.5" y2="292.5" stroke="#000" stroke-width="2.6" />
<line x1="807.5" y1="226" x2="826.5" y2="226" stroke="#000" stroke-width="2.6" />
<line x1="816" y1="218" x2="816" y2="280" stroke="#555" stroke-width="0.9" stroke-dasharray="14,3"/>
<path d="M813,251 H851 M813,251 V285 H826" stroke="#000" stroke-width="2.4" fill="none" />
<path d="M850,251.5 A35,34 0 0 1 815,285.5" stroke="#000" stroke-width="4.2" fill="none" />
<path d="M846,252 A31,30 0 0 1 815,282" stroke="#fff" stroke-width="0.9" fill="none" />
<rect x="851" y="250" width="52" height="8" stroke="#000" stroke-width="1.8" fill="none" />
<line x1="851" y1="254" x2="903" y2="254" stroke="#555" stroke-width="0.9" stroke-dasharray="10,3"/>
<circle cx="817" cy="254" r="3" stroke="#000" stroke-width="0" fill="#000" />
<rect x="812" y="285" width="8.5" height="55.5" stroke="#000" stroke-width="1.6" fill="none" />
<path d="M903,258 A88,88 0 0 1 820,340" stroke="#333" stroke-width="1.1" fill="none" stroke-dasharray="12,4"/>
<line x1="1010" y1="675" x2="1598" y2="675" stroke="#000" stroke-width="2.6" />
<path d="M1016.7,675.5 L1031.3,692.0 M1026.2,675.5 L1040.8,692.0 M1045.5,675.5 L1060.0,692.0 M1055.0,675.5 L1069.6,692.0 M1074.2,675.5 L1088.8,692.0 M1083.8,675.5 L1098.3,692.0 M1103.0,675.5 L1117.5,692.0 M1112.5,675.5 L1127.1,692.0 M1131.7,675.5 L1146.3,692.0 M1141.2,675.5 L1155.8,692.0 M1160.5,675.5 L1175.0,692.0 M1170.0,675.5 L1184.6,692.0 M1189.2,675.5 L1203.8,692.0 M1198.8,675.5 L1213.3,692.0 M1218.0,675.5 L1232.5,692.0 M1227.5,675.5 L1242.1,692.0 M1246.7,675.5 L1261.3,692.0 M1256.2,675.5 L1270.8,692.0 M1275.5,675.5 L1290.0,692.0 M1285.0,675.5 L1299.6,692.0 M1304.2,675.5 L1318.8,692.0 M1313.8,675.5 L1328.3,692.0 M1333.0,675.5 L1347.5,692.0 M1342.5,675.5 L1357.1,692.0 M1361.7,675.5 L1376.3,692.0 M1371.2,675.5 L1385.8,692.0 M1390.5,675.5 L1405.0,692.0 M1400.0,675.5 L1414.6,692.0 M1419.2,675.5 L1433.8,692.0 M1428.8,675.5 L1443.3,692.0 M1448.0,675.5 L1462.5,692.0 M1457.5,675.5 L1472.1,692.0 M1476.7,675.5 L1491.3,692.0 M1486.2,675.5 L1500.8,692.0 M1505.5,675.5 L1520.0,692.0 M1515.0,675.5 L1529.6,692.0 M1534.2,675.5 L1548.8,692.0 M1543.8,675.5 L1558.3,692.0 M1563.0,675.5 L1577.5,692.0 M1572.5,675.5 L1587.1,692.0" stroke="#111" stroke-width="1.3" fill="none" />
<path d="M1228.7,675 V156 H1568.5 V675" stroke="#000" stroke-width="2.3" fill="none" />
<line x1="1228.7" y1="615.4" x2="1304" y2="615.4" stroke="#000" stroke-width="2.2" />
<line x1="1494" y1="615.4" x2="1568.5" y2="615.4" stroke="#000" stroke-width="2.2" />
<line x1="1228.7" y1="667.3" x2="1568.5" y2="667.3" stroke="#000" stroke-width="3" />
<path d="M1304,675 V617 Q1304,610.5 1311,610.5 H1487 Q1494,610.5 1494,617 V675" stroke="#000" stroke-width="2.4" fill="none" />
<rect x="1342" y="617.2" width="109" height="51" stroke="#000" stroke-width="2.6" fill="none" />
<ellipse cx="1318.7" cy="616" rx="2" ry="2.8" fill="#000"/>
<ellipse cx="1318.7" cy="639" rx="2" ry="2.8" fill="#000"/>
<ellipse cx="1478.7" cy="616" rx="2" ry="2.8" fill="#000"/>
<ellipse cx="1478.7" cy="639" rx="2" ry="2.8" fill="#000"/>
<circle cx="1348" cy="633.5" r="2.3" stroke="#000" stroke-width="0" fill="#000" />
<circle cx="1348" cy="652" r="2.3" stroke="#000" stroke-width="0" fill="#000" />
<path d="M1445.5,630 V667 M1449,642 V667" stroke="#000" stroke-width="2.4" fill="none" />
<circle cx="1330.5" cy="665" r="2.5" stroke="#000" stroke-width="0" fill="#000" />
<circle cx="1466.5" cy="665" r="2.5" stroke="#000" stroke-width="0" fill="#000" />
<line x1="1318.5" y1="667" x2="1318.5" y2="675" stroke="#000" stroke-width="2.2" />
<line x1="1357.5" y1="667" x2="1357.5" y2="675" stroke="#000" stroke-width="2.2" />
<line x1="1440.5" y1="667" x2="1440.5" y2="675" stroke="#000" stroke-width="2.2" />
<line x1="1478.5" y1="667" x2="1478.5" y2="675" stroke="#000" stroke-width="2.2" />
<use href="#vside" x="1269" y="123.5"/>
<rect x="1265.7" y="150" width="6.8" height="6" stroke="#000" stroke-width="1.4" fill="#ccc" />
<use href="#vside" x="1306.4" y="123.5"/>
<rect x="1303.1000000000001" y="150" width="6.8" height="6" stroke="#000" stroke-width="1.4" fill="#ccc" />
<use href="#vside" x="1527.7" y="123.5"/>
<rect x="1524.4" y="150" width="6.8" height="6" stroke="#000" stroke-width="1.4" fill="#ccc" />
<line x1="1228.7" y1="72" x2="1228.7" y2="156" stroke="#222" stroke-width="1.1" />
<line x1="1568.5" y1="72" x2="1568.5" y2="156" stroke="#222" stroke-width="1.1" />
<line x1="1228.7" y1="77.6" x2="1568.5" y2="77.6" stroke="#222" stroke-width="1.1" />
<path d="M1228.7,77.6 L1241.7,75.39999999999999 L1241.7,79.8 Z" fill="#000"/>
<path d="M1568.5,77.6 L1555.5,75.39999999999999 L1555.5,79.8 Z" fill="#000"/>
<text x="1381" y="72.2" font-size="17" font-style="italic" font-weight="normal" text-anchor="start" fill="#000" textLength="34.4" lengthAdjust="spacingAndGlyphs" style="white-space:pre" >1260</text>
<line x1="1269.2" y1="95.7" x2="1269.2" y2="168" stroke="#222" stroke-width="1.1" />
<line x1="1527.75" y1="95.7" x2="1527.75" y2="169" stroke="#222" stroke-width="1.1" />
<line x1="1269.2" y1="101.8" x2="1527.75" y2="101.8" stroke="#222" stroke-width="1.1" />
<path d="M1269.2,101.8 L1282.2,99.6 L1282.2,104.0 Z" fill="#000"/>
<path d="M1527.75,101.8 L1514.75,99.6 L1514.75,104.0 Z" fill="#000"/>
<text x="1384" y="95.7" font-size="17" font-style="italic" font-weight="normal" text-anchor="start" fill="#000" textLength="27.8" lengthAdjust="spacingAndGlyphs" style="white-space:pre" >960</text>
<text x="1350.4" y="50.5" font-size="38" font-style="italic" font-weight="normal" text-anchor="start" fill="#000" textLength="18" lengthAdjust="spacingAndGlyphs" stroke="#fff" stroke-width="0.46" style="white-space:pre" >A</text>
<line x1="1398.5" y1="124.6" x2="1398.5" y2="148.8" stroke="#000" stroke-width="3.2" />
<line x1="1398.5" y1="132.9" x2="1439" y2="132.9" stroke="#222" stroke-width="1.1" />
<path d="M1400,132.9 L1412,130.9 L1412,134.9 Z" fill="#000"/>
<text x="1426.3" y="124.6" font-size="36" font-style="italic" font-weight="normal" text-anchor="start" fill="#000" textLength="20" lengthAdjust="spacingAndGlyphs" stroke="#fff" stroke-width="0.43" style="white-space:pre" >Б</text>
<line x1="1398.75" y1="744" x2="1398.75" y2="768" stroke="#000" stroke-width="3.2" />
<line x1="1398.75" y1="760.8" x2="1438" y2="760.8" stroke="#222" stroke-width="1.1" />
<path d="M1400.5,760.8 L1412.5,758.8 L1412.5,762.8 Z" fill="#000"/>
<text x="1425" y="795" font-size="36" font-style="italic" font-weight="normal" text-anchor="start" fill="#000" textLength="20" lengthAdjust="spacingAndGlyphs" stroke="#fff" stroke-width="0.43" style="white-space:pre" >Б</text>
<path d="M1398.3,156 V265 M1398.3,290 V470 M1398.3,496 V521 M1398.3,545 V674" stroke="#333" stroke-width="1" fill="none" />
<line x1="1182.5" y1="605" x2="1182.5" y2="735" stroke="#222" stroke-width="1.1" />
<line x1="1614.7" y1="608" x2="1614.7" y2="740" stroke="#222" stroke-width="1.1" />
<line x1="1182.5" y1="729.6" x2="1614.7" y2="729.6" stroke="#222" stroke-width="1.1" />
<path d="M1182.5,729.6 L1195.5,727.4 L1195.5,731.8000000000001 Z" fill="#000"/>
<path d="M1614.7,729.6 L1601.7,727.4 L1601.7,731.8000000000001 Z" fill="#000"/>
<text x="1381" y="723" font-size="17" font-style="italic" font-weight="normal" text-anchor="start" fill="#000" textLength="34" lengthAdjust="spacingAndGlyphs" style="white-space:pre" >1605</text>
<rect x="1472.4" y="221.6" width="69" height="54.8" stroke="#000" stroke-width="2.4" fill="none" />
<circle cx="1475.4" cy="224.6" r="2.3" stroke="#000" stroke-width="0" fill="#000" />
<circle cx="1538.4" cy="224.6" r="2.3" stroke="#000" stroke-width="0" fill="#000" />
<circle cx="1475.4" cy="273.4" r="2.3" stroke="#000" stroke-width="0" fill="#000" />
<circle cx="1538.4" cy="273.4" r="2.3" stroke="#000" stroke-width="0" fill="#000" />
<rect x="1488" y="267.6" width="20" height="5.4" stroke="#000" stroke-width="1.8" fill="none" />
<path d="M1322.5,315.25 H1474.75 Q1478.5,315.25 1478.5,319.0 V451.75 Q1478.5,455.5 1474.75,455.5 H1322.5 Q1318.75,455.5 1318.75,451.75 V319.0 Q1318.75,315.25 1322.5,315.25 Z" stroke="#000" stroke-width="2.3" fill="none" />
<circle cx="1369" cy="326.5" r="6.8" stroke="#000" stroke-width="2.2" fill="none" />
<circle cx="1369" cy="326.5" r="5" stroke="#555" stroke-width="0.8" fill="none" />
<circle cx="1369" cy="326.5" r="3.4" stroke="#000" stroke-width="0" fill="#000" />
<circle cx="1422.7" cy="326.5" r="6.8" stroke="#000" stroke-width="2.2" fill="none" />
<circle cx="1422.7" cy="326.5" r="5" stroke="#555" stroke-width="0.8" fill="none" />
<circle cx="1422.7" cy="326.5" r="3.4" stroke="#000" stroke-width="0" fill="#000" />
<circle cx="1342.75" cy="443.5" r="6.8" stroke="#000" stroke-width="2.2" fill="none" />
<circle cx="1342.75" cy="443.5" r="5" stroke="#555" stroke-width="0.8" fill="none" />
<circle cx="1342.75" cy="443.5" r="3.4" stroke="#000" stroke-width="0" fill="#000" />
<circle cx="1449.25" cy="443.5" r="6.8" stroke="#000" stroke-width="2.2" fill="none" />
<circle cx="1449.25" cy="443.5" r="5" stroke="#555" stroke-width="0.8" fill="none" />
<circle cx="1449.25" cy="443.5" r="3.4" stroke="#000" stroke-width="0" fill="#000" />
<path d="M1335.3,337.75 H1459.3 V432.70000000000005 H1335.3 Q1331.8,432.70000000000005 1331.8,429.20000000000005 V341.25 Q1331.8,337.75 1335.3,337.75" stroke="#000" stroke-width="2.3" fill="none" />
<rect x="1459.3" y="351.25" width="14.4" height="9" stroke="#000" stroke-width="1.9" fill="#fff" />
<ellipse cx="1467" cy="355.75" rx="2.4" ry="6.2" fill="none" stroke="#000" stroke-width="1.8"/>
<rect x="1459.3" y="409.75" width="14.4" height="9" stroke="#000" stroke-width="1.9" fill="#fff" />
<ellipse cx="1467" cy="414.25" rx="2.4" ry="6.2" fill="none" stroke="#000" stroke-width="1.8"/>
<path d="M1330,389.0 H1367.6 A5.1,5.1 0 0 1 1367.6,399.20000000000005 H1330" stroke="#000" stroke-width="2" fill="none" />
<rect x="1323.5" y="386.5" width="5.5" height="16" stroke="#000" stroke-width="0" fill="#000" rx="1.5"/>
<circle cx="1366.25" cy="394.0" r="2.5" stroke="#000" stroke-width="0" fill="#000" />
<path d="M1388.5,391.29999999999995 L1393,370.5 A 10.5,10.5 0 0 1 1404.4,370.5 L1410.25,391.29999999999995 Z" stroke="#000" stroke-width="2.3" fill="none" stroke-linejoin="round"/>
<circle cx="1398.7" cy="375.25" r="2.5" stroke="#000" stroke-width="0" fill="#000" />
<path d="M1322.5,455.75 H1474.75 Q1478.5,455.75 1478.5,459.5 V592.25 Q1478.5,596 1474.75,596 H1322.5 Q1318.75,596 1318.75,592.25 V459.5 Q1318.75,455.75 1322.5,455.75 Z" stroke="#000" stroke-width="2.3" fill="none" />
<circle cx="1369" cy="467" r="6.8" stroke="#000" stroke-width="2.2" fill="none" />
<circle cx="1369" cy="467" r="5" stroke="#555" stroke-width="0.8" fill="none" />
<circle cx="1369" cy="467" r="3.4" stroke="#000" stroke-width="0" fill="#000" />
<circle cx="1422.7" cy="467" r="6.8" stroke="#000" stroke-width="2.2" fill="none" />
<circle cx="1422.7" cy="467" r="5" stroke="#555" stroke-width="0.8" fill="none" />
<circle cx="1422.7" cy="467" r="3.4" stroke="#000" stroke-width="0" fill="#000" />
<circle cx="1342.75" cy="584" r="6.8" stroke="#000" stroke-width="2.2" fill="none" />
<circle cx="1342.75" cy="584" r="5" stroke="#555" stroke-width="0.8" fill="none" />
<circle cx="1342.75" cy="584" r="3.4" stroke="#000" stroke-width="0" fill="#000" />
<circle cx="1449.25" cy="584" r="6.8" stroke="#000" stroke-width="2.2" fill="none" />
<circle cx="1449.25" cy="584" r="5" stroke="#555" stroke-width="0.8" fill="none" />
<circle cx="1449.25" cy="584" r="3.4" stroke="#000" stroke-width="0" fill="#000" />
<path d="M1335.3,478.25 H1459.3 V573.2 H1335.3 Q1331.8,573.2 1331.8,569.7 V481.75 Q1331.8,478.25 1335.3,478.25" stroke="#000" stroke-width="2.3" fill="none" />
<rect x="1459.3" y="491.75" width="14.4" height="9" stroke="#000" stroke-width="1.9" fill="#fff" />
<ellipse cx="1467" cy="496.25" rx="2.4" ry="6.2" fill="none" stroke="#000" stroke-width="1.8"/>
<rect x="1459.3" y="550.25" width="14.4" height="9" stroke="#000" stroke-width="1.9" fill="#fff" />
<ellipse cx="1467" cy="554.75" rx="2.4" ry="6.2" fill="none" stroke="#000" stroke-width="1.8"/>
<path d="M1330,529.5 H1367.6 A5.1,5.1 0 0 1 1367.6,539.7 H1330" stroke="#000" stroke-width="2" fill="none" />
<rect x="1323.5" y="527" width="5.5" height="16" stroke="#000" stroke-width="0" fill="#000" rx="1.5"/>
<circle cx="1366.25" cy="534.5" r="2.5" stroke="#000" stroke-width="0" fill="#000" />
<path d="M1388.5,531.8 L1393,511 A 10.5,10.5 0 0 1 1404.4,511 L1410.25,531.8 Z" stroke="#000" stroke-width="2.3" fill="none" stroke-linejoin="round"/>
<circle cx="1398.7" cy="515.75" r="2.5" stroke="#000" stroke-width="0" fill="#000" />
<path d="M1160,659.3 H1100 A66.5,66.5 0 0 1 1036.3,593 A65,59 0 0 1 1102.7,534 A57.5,53 0 0 1 1160,585 V659.3" stroke="#000" stroke-width="2.6" fill="none" />
<circle cx="1102.7" cy="593" r="47.4" stroke="#000" stroke-width="2.6" fill="none" />
<circle cx="1102.7" cy="593" r="41.3" stroke="#000" stroke-width="2.6" fill="none" />
<circle cx="1102.7" cy="593" r="33.7" stroke="#000" stroke-width="3.4" fill="none" />
<line x1="1102.7" y1="545" x2="1102.7" y2="672" stroke="#333" stroke-width="1" />
<rect x="1082.7" y="572.7" width="30.6" height="4.3" stroke="#000" stroke-width="1.3" fill="none" />
<line x1="1092" y1="572.7" x2="1092" y2="577" stroke="#000" stroke-width="1.1" />
<path d="M1064.7,651 V675 M1072,656 V675" stroke="#000" stroke-width="2.2" fill="none" />
<path d="M1134.7,659.3 V675 M1140.7,659.3 V675" stroke="#000" stroke-width="2.2" fill="none" />
<path d="M1072,662.7 H1134.7 M1072,666.7 H1134.7" stroke="#000" stroke-width="2" fill="none" />
<rect x="1159.3" y="613.3" width="5.4" height="58.7" stroke="#000" stroke-width="0" fill="#000" />
<line x1="1164.7" y1="624.5" x2="1228.7" y2="624.5" stroke="#000" stroke-width="2" />
<line x1="1150" y1="661.5" x2="1228.7" y2="661.5" stroke="#000" stroke-width="2.4" />
<rect x="1206.5" y="568.5" width="5" height="53.5" stroke="#000" stroke-width="1.8" fill="none" />
<rect x="1204.5" y="595" width="8" height="27" stroke="#000" stroke-width="0" fill="#000" />
<path d="M1211.5,580 H1228.7 M1211.5,597.5 H1228.7 M1211.5,604.5 H1228.7 M1211.5,609 H1228.7" stroke="#000" stroke-width="1.8" fill="none" />
<g transform="translate(1197,574.5)"><rect x="-10" y="-1.5" width="20" height="3" rx="1.4" fill="#000"/><circle cx="0" cy="-1.5" r="2.4" fill="#000"/><rect x="-1.8" y="1" width="3.6" height="3" fill="#000"/><rect x="-4.5" y="4" width="9" height="8" rx="1.5" fill="#000"/><circle cx="0" cy="8" r="1.2" fill="#ccc"/><path d="M-6,16 L-3,12 H3 L9,16 Z" fill="#000"/><path d="M-9,16 H9 V32 H-9 Z" fill="#fff" stroke="#000" stroke-width="2"/><rect x="-14.5" y="20" width="5.5" height="13" fill="#fff" stroke="#000" stroke-width="2.2"/><rect x="-12.8" y="23" width="2" height="3" fill="#000"/></g>
<path d="M1176,646 A32,32 0 0 1 1206,611" stroke="#000" stroke-width="3" fill="none" />
<path d="M1181,646 A27,27 0 0 1 1206,616" stroke="#000" stroke-width="1.6" fill="none" />
<path d="M1175,647.5 H1209" stroke="#000" stroke-width="2.4" fill="none" />
<circle cx="1168" cy="643" r="3.4" stroke="#000" stroke-width="1.4" fill="none" />
<circle cx="1199" cy="643" r="3" stroke="#555" stroke-width="1.2" fill="none" />
<circle cx="1209" cy="645" r="4.2" stroke="#000" stroke-width="0" fill="#000" />
<path d="M1181,604 L1189,597 M1170,617 L1176,611" stroke="#555" stroke-width="1" fill="none" />
<line x1="1568.5" y1="580.5" x2="1585.75" y2="580.5" stroke="#000" stroke-width="1.8" />
<rect x="1585.75" y="568.5" width="5.25" height="53" stroke="#000" stroke-width="1.8" fill="none" />
<rect x="1583.5" y="595" width="7.5" height="15" stroke="#000" stroke-width="0" fill="#000" />
<path d="M1568.5,597.8 H1585 M1568.5,602.7 H1585 M1568.5,608 H1585" stroke="#000" stroke-width="1.8" fill="none" />
<g transform="translate(1600,574.7)"><rect x="-10.5" y="-1.4" width="21" height="2.8" rx="1.3" fill="#000"/><circle cx="0" cy="-1.3" r="2.2" fill="#000"/><rect x="-3.5" y="1" width="7" height="8" fill="#000"/><path d="M-8,16 L-3,9 H3 L8,16 Z" fill="#000"/><rect x="-9" y="17" width="19" height="13" fill="#fff" stroke="#000" stroke-width="2"/><rect x="10" y="20.5" width="5" height="13" fill="#fff" stroke="#000" stroke-width="2.2"/></g>
<line x1="1557" y1="595" x2="1597" y2="595" stroke="#555" stroke-width="0.9" />
<line x1="1611" y1="601.6" x2="1633" y2="601.6" stroke="#555" stroke-width="0.9" />
<path d="M992,427.3 H1173.5 L1221,588.5" stroke="#222" stroke-width="1.1" fill="none" />
<circle cx="1221" cy="588.5" r="2" stroke="#000" stroke-width="0" fill="#000" />
<text x="994.7" y="416.7" font-size="31" font-style="italic" font-weight="normal" text-anchor="start" fill="#000" textLength="172" lengthAdjust="spacingAndGlyphs" stroke="#fff" stroke-width="0.37" style="white-space:pre" >Выход  воды</text>
<text x="1045" y="455" font-size="31" font-style="italic" font-weight="normal" text-anchor="start" fill="#000" textLength="70" lengthAdjust="spacingAndGlyphs" stroke="#fff" stroke-width="0.37" style="white-space:pre" >Dy80</text>
<path d="M1710.5,457.2 H1573 L1580,593.4" stroke="#222" stroke-width="1.1" fill="none" />
<circle cx="1580" cy="593.4" r="2" stroke="#000" stroke-width="0" fill="#000" />
<text x="1576.7" y="447.7" font-size="31" font-style="italic" font-weight="normal" text-anchor="start" fill="#000" textLength="153" lengthAdjust="spacingAndGlyphs" stroke="#fff" stroke-width="0.37" style="white-space:pre" >Вход  воды</text>
<text x="1602" y="486" font-size="31" font-style="italic" font-weight="normal" text-anchor="start" fill="#000" textLength="70" lengthAdjust="spacingAndGlyphs" stroke="#fff" stroke-width="0.37" style="white-space:pre" >Dy80</text>
<text x="1244.5" y="621.5" font-size="11" font-style="italic" fill="#555">3</text>
<line x1="1170" y1="601.7" x2="1240" y2="601.7" stroke="#777" stroke-width="0.9" />
<line x1="1010" y1="687" x2="1016" y2="692" stroke="#111" stroke-width="1.2" />
<line x1="166.5" y1="691.5" x2="175" y2="682" stroke="#111" stroke-width="1.2" />
</svg></body></html>
